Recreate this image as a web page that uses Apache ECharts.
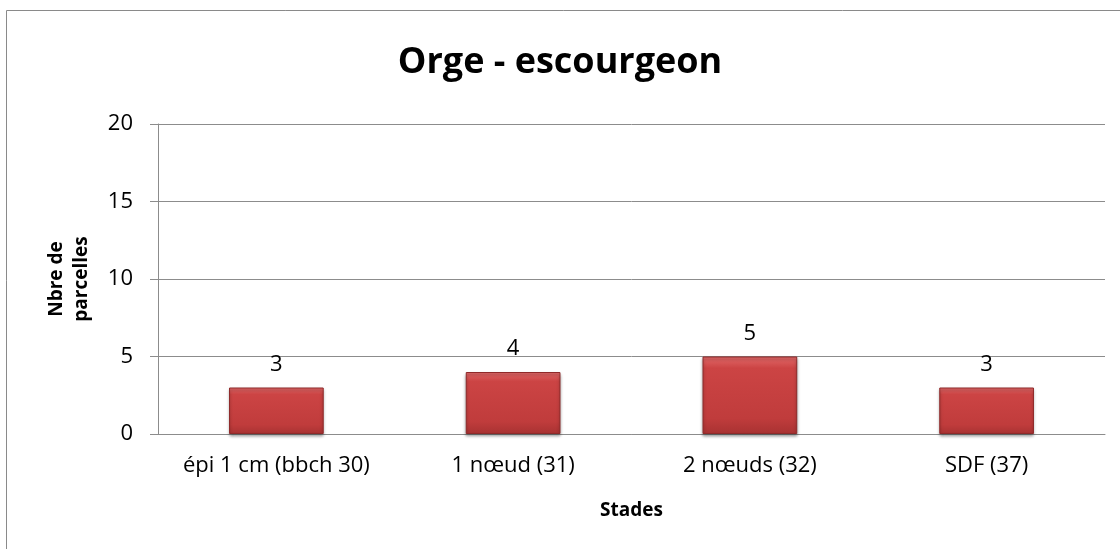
<!DOCTYPE html>
<html><head><meta charset="utf-8">
<script src="https://cdn.jsdelivr.net/npm/echarts@6/dist/echarts.min.js"></script>
<style>html,body{margin:0;padding:0;background:#fff}#c{width:1120px;height:549px}</style>
</head><body><div id="c"></div>
<script>
const categories = ['épi 1 cm (bbch 30)', '1 nœud (31)', '2 nœuds (32)', 'SDF (37)'];
const values = [3, 4, 5, 3];
const yTicks = { min: 0, max: 20, interval: 5 };
const titleText = 'Orge - escourgeon';
const xName = 'Stades';
const yName = 'Nbre de\nparcelles';

const FONT = '"Open Sans", sans-serif';
const chart = echarts.init(document.getElementById('c'), null, { renderer: 'canvas' });
chart.setOption({
  animation: false,
  backgroundColor: '#fff',
  graphic: [{
    type: 'rect', shape: { x: 6.5, y: 10.5, width: 1130, height: 560 },
    style: { fill: 'none', stroke: '#8a8a8a', lineWidth: 1 }, silent: true, z: -1
  }],
  title: {
    text: titleText, left: 'center', top: 40,
    textStyle: { fontFamily: FONT, fontSize: 36, fontWeight: 'bold', color: '#000' }
  },
  grid: { left: 158, right: 15, top: 124, bottom: 115, containLabel: false },
  xAxis: {
    type: 'category', data: categories,
    name: xName, nameLocation: 'middle', nameGap: 67,
    nameTextStyle: { fontFamily: FONT, fontSize: 19, fontWeight: 'bold', color: '#000' },
    axisLine: { lineStyle: { color: '#8c8c8c', width: 1 } },
    axisTick: { show: false },
    axisLabel: { interval: 0, fontFamily: FONT, fontSize: 22, color: '#000', margin: 21 }
  },
  yAxis: {
    type: 'value', min: yTicks.min, max: yTicks.max, interval: yTicks.interval,
    name: yName, nameLocation: 'middle', nameGap: 64, nameRotate: 90,
    nameTextStyle: { fontFamily: FONT, fontSize: 19, fontWeight: 'bold', color: '#000', lineHeight: 25 },
    axisLine: { show: true, lineStyle: { color: '#8c8c8c', width: 1 } },
    axisTick: { show: true, length: 8, lineStyle: { color: '#8c8c8c' } },
    axisLabel: { fontFamily: FONT, fontSize: 22, color: '#000', margin: 25 },
    splitLine: { lineStyle: { color: '#8c8c8c', width: 1 } }
  },
  series: [{
    type: 'bar', data: values, barWidth: '40%',
    itemStyle: {
      color: new echarts.graphic.LinearGradient(0, 0, 0, 1, [
        { offset: 0, color: '#e26a6a' },
        { offset: 0.15, color: '#cc4444' },
        { offset: 0.8, color: '#c03c3c' },
        { offset: 1, color: '#a83232' }
      ]),
      borderColor: '#8f2a2a', borderWidth: 1,
      shadowColor: 'rgba(0,0,0,0.35)', shadowBlur: 3, shadowOffsetY: 2
    },
    label: {
      show: true, position: 'top', distance: 12,
      fontFamily: FONT, fontSize: 22, color: '#000'
    }
  }]
});
</script></body></html>
